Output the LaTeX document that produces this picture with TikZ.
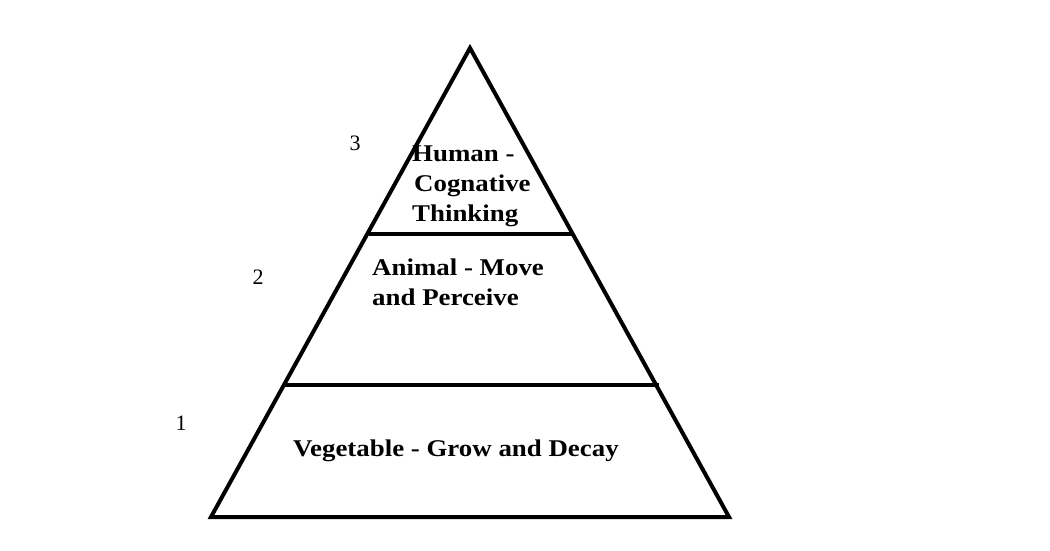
\documentclass[tikz,border=0pt]{standalone}
\usepackage{fontspec}
\setmainfont{Liberation Serif}
\newfontfamily\lb[FakeStretch=1.12]{Liberation Serif}
\begin{document}
\begin{tikzpicture}[x=1pt,y=-1pt,
  lbl/.style={font=\lb\bfseries\fontsize{24}{30}\selectfont,align=left,inner sep=0pt},
  num/.style={font=\fontsize{22}{25}\selectfont,inner sep=0pt}]
\useasboundingbox (0,0) rectangle (1050,551);
\coordinate (A) at (470,48);
\coordinate (L) at (211,517);
\coordinate (R) at (729,517);
\node[lbl,anchor=north west] (h) at (412,146) {Human -\\\hspace*{2pt}Cognative\\Thinking};
\node[lbl,anchor=north west] (m) at (372,259) {Animal - Move\\and Perceive};
\node[lbl,anchor=west] (v) at (293,451) {Vegetable - Grow and Decay};
\fill[white] (369,232) rectangle (573,240);
\draw[line width=4pt,line join=miter] (A) -- (L) -- (R) -- cycle;
\coordinate (a1) at (369,234); \coordinate (a2) at (573,234);
\coordinate (b1) at (284,385); \coordinate (b2) at (659,385);
\draw[line width=3.5pt] (a1) -- (a2);
\draw[line width=3.5pt] (b1) -- (b2);
\node[num] (n3) at (355,143) {3};
\node[num] (n2) at (258,277) {2};
\node[num] (n1) at (181,423) {1};
\end{tikzpicture}
\end{document}
